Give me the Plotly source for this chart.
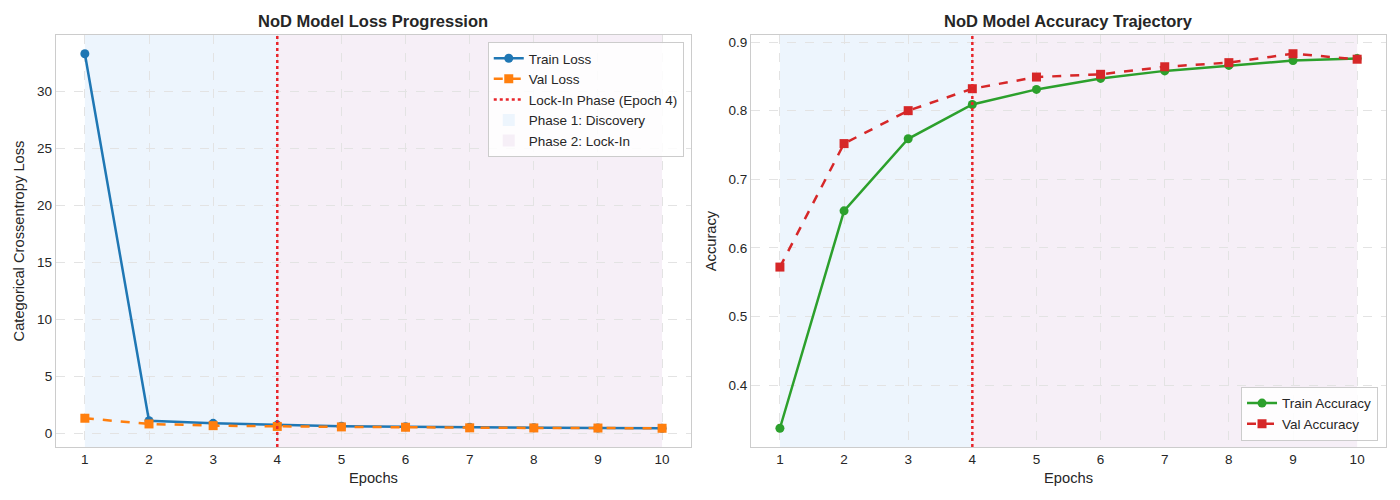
import plotly.graph_objects as go
from plotly.subplots import make_subplots

# valeurs
epochs = [1, 2, 3, 4, 5, 6, 7, 8, 9, 10]
train_loss = [33.3, 1.10, 0.87, 0.72, 0.62, 0.57, 0.52, 0.49, 0.46, 0.44]
val_loss = [1.32, 0.82, 0.67, 0.60, 0.56, 0.53, 0.48, 0.47, 0.46, 0.44]
train_acc = [0.337, 0.654, 0.759, 0.809, 0.831, 0.847, 0.858, 0.866, 0.873, 0.876]
val_acc = [0.572, 0.752, 0.800, 0.832, 0.849, 0.853, 0.864, 0.870, 0.883, 0.875]

lock_in_epoch = 4
phase1 = (1, 4)
phase2 = (4, 10)

loss_ticks = [0, 5, 10, 15, 20, 25, 30]
acc_ticks = [0.4, 0.5, 0.6, 0.7, 0.8, 0.9]

FONT = "Liberation Sans, Arial, sans-serif"
TXT = "#262626"
GRID = "#e3e3e3"
EDGE = "#cccccc"


# marge automatique 5% comme matplotlib
def pad_range(vals, frac=0.05):
    lo, hi = min(vals), max(vals)
    d = (hi - lo) * frac
    return [lo - d, hi + d]


fig = make_subplots(rows=1, cols=2)

# --- courbes de perte ---
fig.add_trace(go.Scatter(
    x=epochs, y=train_loss, name="Train Loss", mode="lines+markers",
    line=dict(color="#1f77b4", width=2.5),
    marker=dict(symbol="circle", size=9, color="#1f77b4"),
    legend="legend", legendrank=1), row=1, col=1)
fig.add_trace(go.Scatter(
    x=epochs, y=val_loss, name="Val Loss", mode="lines+markers",
    line=dict(color="#ff7f0e", width=2.5, dash="dash"),
    marker=dict(symbol="square", size=9, color="#ff7f0e"),
    legend="legend", legendrank=2), row=1, col=1)

# --- courbes de précision ---
fig.add_trace(go.Scatter(
    x=epochs, y=train_acc, name="Train Accuracy", mode="lines+markers",
    line=dict(color="#2ca02c", width=2.5),
    marker=dict(symbol="circle", size=9, color="#2ca02c"),
    legend="legend2"), row=1, col=2)
fig.add_trace(go.Scatter(
    x=epochs, y=val_acc, name="Val Accuracy", mode="lines+markers",
    line=dict(color="#d62728", width=2.5, dash="dash"),
    marker=dict(symbol="square", size=9, color="#d62728"),
    legend="legend2"), row=1, col=2)

# zones des phases + ligne de lock-in, sur les deux graphes
for i, (xa, ya) in enumerate([("x", "y"), ("x2", "y2")]):
    first = i == 0
    fig.add_shape(type="rect", xref=xa, yref=ya + " domain",
                  x0=phase1[0], x1=phase1[1], y0=0, y1=1,
                  fillcolor="#edf5fd", line_width=0, layer="below",
                  name="Phase 1: Discovery", showlegend=first,
                  legend="legend", legendrank=4)
    fig.add_shape(type="rect", xref=xa, yref=ya + " domain",
                  x0=phase2[0], x1=phase2[1], y0=0, y1=1,
                  fillcolor="#f6eff7", line_width=0, layer="below",
                  name="Phase 2: Lock-In", showlegend=first,
                  legend="legend", legendrank=5)
    fig.add_shape(type="line", xref=xa, yref=ya + " domain",
                  x0=lock_in_epoch, x1=lock_in_epoch, y0=0, y1=1,
                  line=dict(color="#e8252b", width=2.5, dash="dot"),
                  layer="above",
                  name=f"Lock-In Phase (Epoch {lock_in_epoch})", showlegend=first,
                  legend="legend", legendrank=3)

axis_style = dict(
    showgrid=True, gridcolor=GRID, griddash="dash", gridwidth=1,
    showline=True, linecolor=EDGE, linewidth=1.3, mirror=True,
    zeroline=False, ticks="", automargin=False,
    tickfont=dict(size=13.5, color=TXT, family=FONT),
)

fig.update_xaxes(**axis_style, tickvals=epochs, range=pad_range(epochs),
                 title=dict(text="Epochs", font=dict(size=14.7, color=TXT), standoff=6))
fig.update_xaxes(domain=[0, 0.4774], row=1, col=1)
fig.update_xaxes(domain=[0.5226, 1], row=1, col=2)
fig.update_yaxes(**axis_style)
fig.update_yaxes(tickvals=loss_ticks, range=pad_range(train_loss + val_loss),
                 title=dict(text="Categorical Crossentropy Loss", font=dict(size=14.7, color=TXT), standoff=8),
                 row=1, col=1)
fig.update_yaxes(tickvals=acc_ticks, range=pad_range(train_acc + val_acc),
                 title=dict(text="Accuracy", font=dict(size=14.7, color=TXT), standoff=8),
                 row=1, col=2)

legend_style = dict(
    bgcolor="rgba(255,255,255,0.85)", bordercolor=EDGE, borderwidth=1,
    font=dict(size=13.5, color=TXT, family=FONT), tracegroupgap=0,
)

# la page html ajoute 8px de marge autour du graphe : on compense
fig.update_layout(
    width=1392, height=492,
    margin=dict(l=48, r=14, t=27, b=53, autoexpand=False),
    paper_bgcolor="white", plot_bgcolor="white",
    font=dict(family=FONT, color=TXT),
    legend=dict(**legend_style, x=0.472, y=0.983, xanchor="right", yanchor="top"),
    legend2=dict(**legend_style, x=0.994, y=0.015, xanchor="right", yanchor="bottom"),
    annotations=[
        dict(text="<b>NoD Model Loss Progression</b>", x=0.2387, y=1.034,
             xref="paper", yref="paper", showarrow=False, xanchor="center",
             yanchor="middle", font=dict(size=16.5, color=TXT, family=FONT)),
        dict(text="<b>NoD Model Accuracy Trajectory</b>", x=0.7613, y=1.034,
             xref="paper", yref="paper", showarrow=False, xanchor="center",
             yanchor="middle", font=dict(size=16.5, color=TXT, family=FONT)),
    ],
)

fig.write_html("out.html")
